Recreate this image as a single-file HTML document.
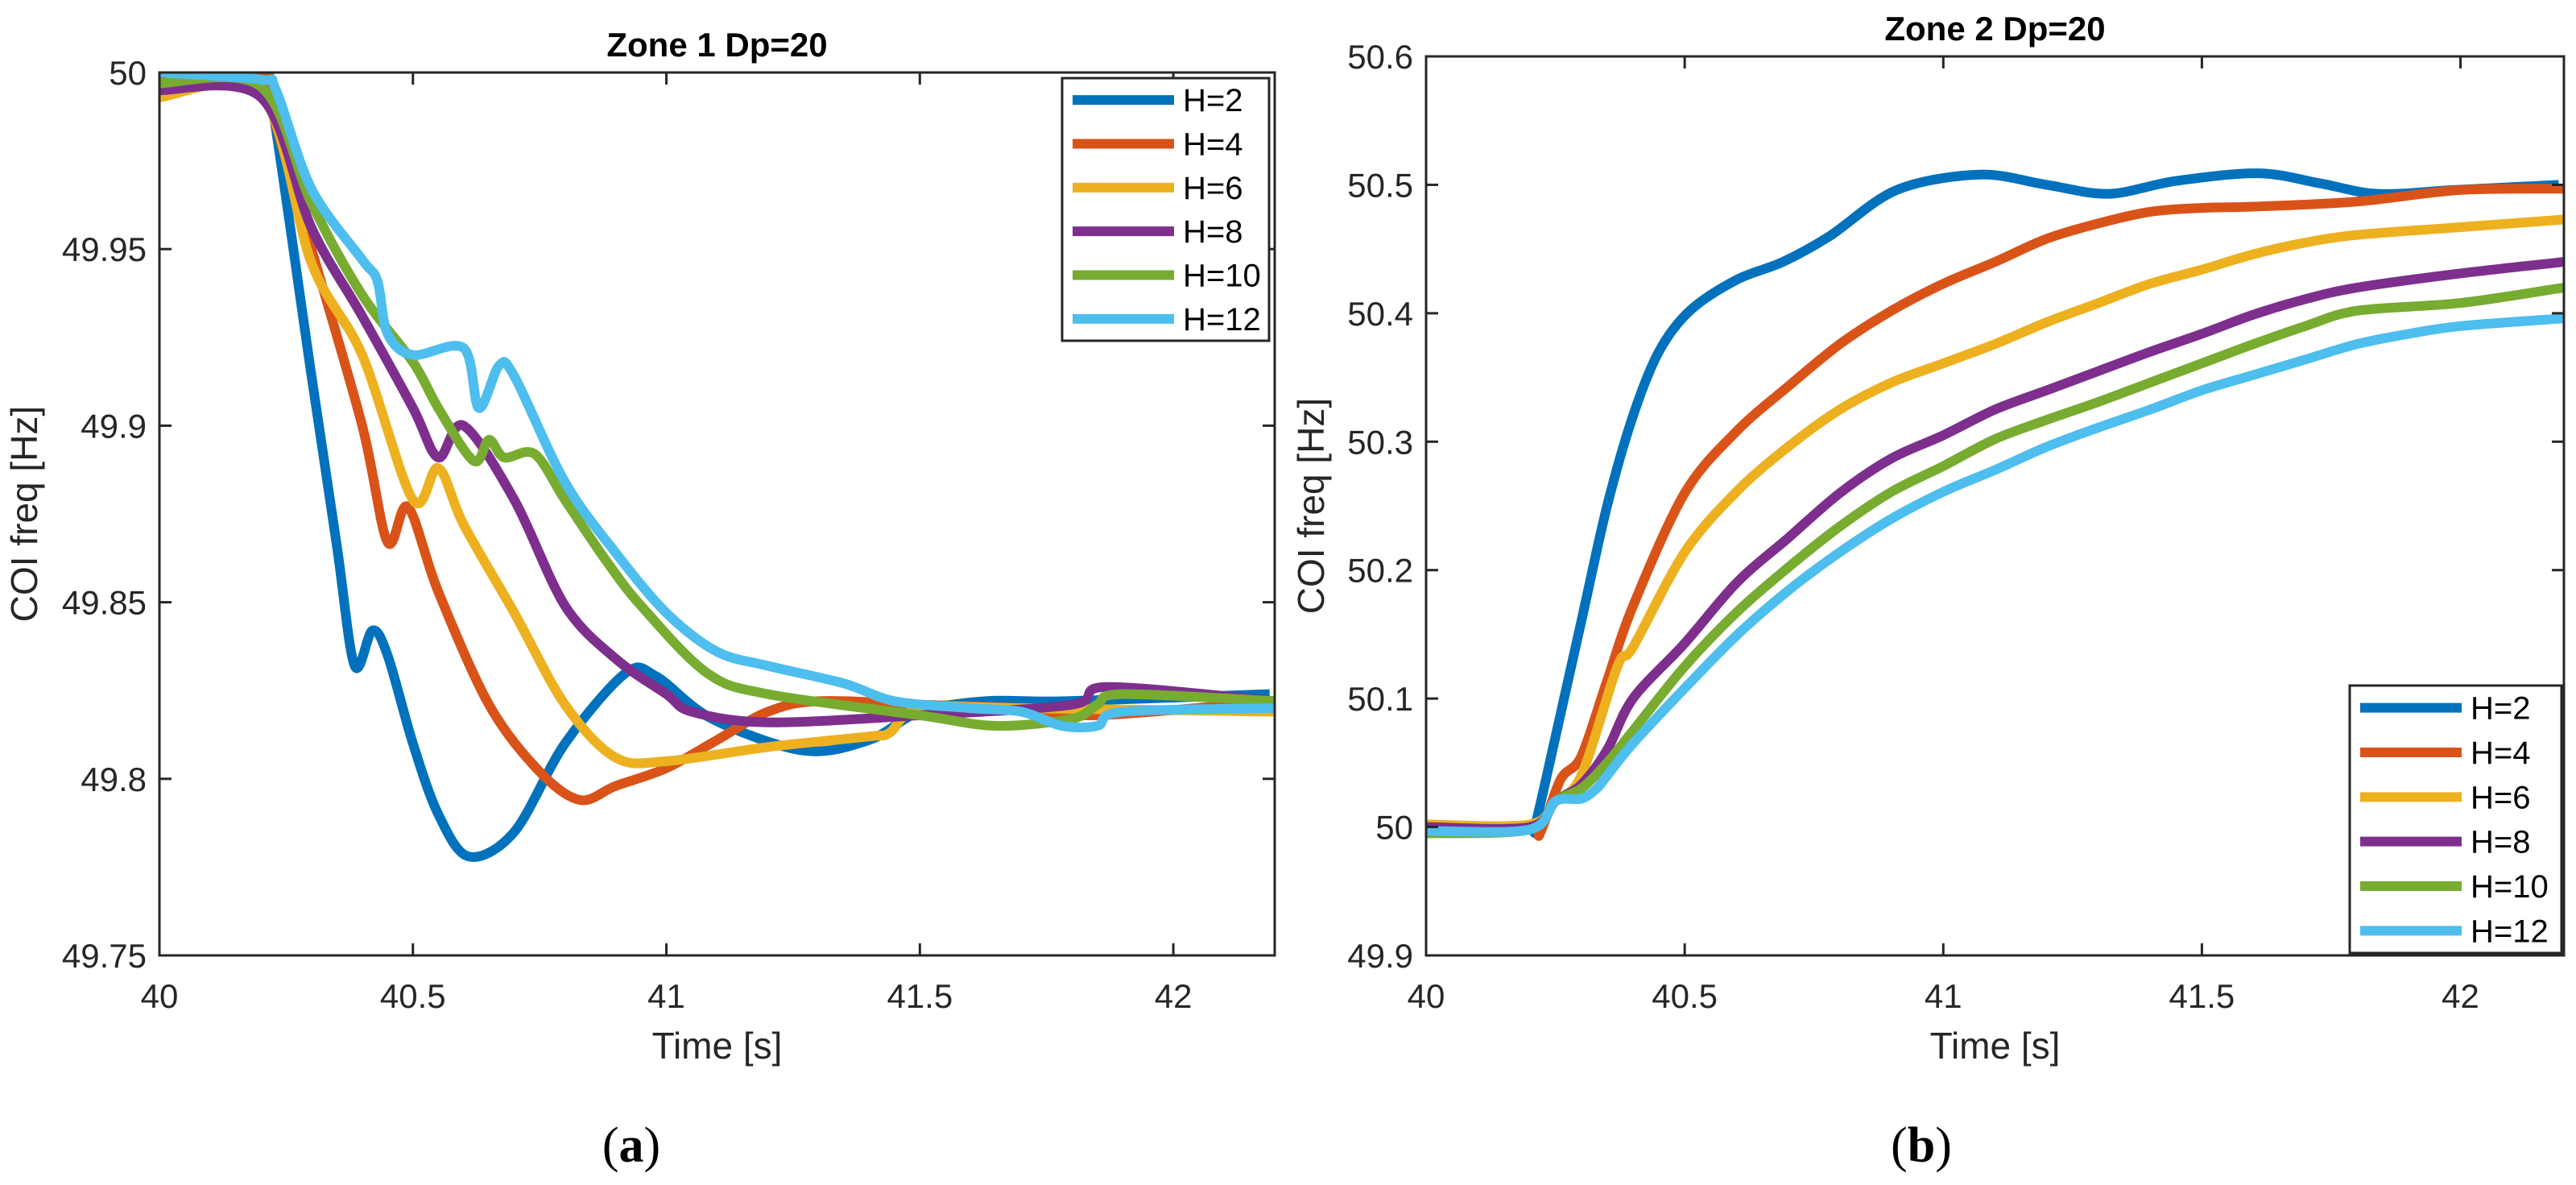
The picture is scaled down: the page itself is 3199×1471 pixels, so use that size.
<!DOCTYPE html>
<html><head><meta charset="utf-8"><style>
body{margin:0;background:#fff}
svg{display:block}
text{font-family:"Liberation Sans",sans-serif;fill:#262626}
</style></head><body>
<svg id="fig" width="3199" height="1471" viewBox="0 0 3199 1471" xmlns="http://www.w3.org/2000/svg"></svg>
<script>
const colors=["#0072BD","#D95319","#EDB120","#7E2F8E","#77AC30","#4DBEEE"];
const seriesNames=["H=2","H=4","H=6","H=8","H=10","H=12"];
// Panel A data
const aX=[[40,40.2,40.22,40.3,40.35,40.385,40.42,40.45,40.5,40.55,40.61,40.7,40.8,40.92,40.98,41.09,41.27,41.4,41.5,41.63,41.79,42.19],
[40,40.2,40.22,40.3,40.4,40.45,40.49,40.55,40.65,40.75,40.83,40.9,41,41.1,41.2,41.3,41.5,41.7,41.85,42.2],
[40,40.2,40.3,40.4,40.5,40.55,40.6,40.7,40.8,40.9,41,41.2,41.4,41.44,41.5,41.7,42.2],
[40,40.2,40.3,40.4,40.5,40.55,40.6,40.7,40.8,40.9,41,41.05,41.2,41.5,41.8,41.87,42.2],
[40,40.2,40.3,40.4,40.5,40.55,40.62,40.65,40.68,40.74,40.8,40.88,40.95,41.08,41.2,41.5,41.65,41.8,41.85,41.9,42.2],
[40,40.2,40.23,40.3,40.4,40.43,40.45,40.5,40.6,40.63,40.67,40.7,40.8,40.9,41,41.1,41.2,41.35,41.45,41.6,41.7,41.78,41.85,41.9,42.2]];
const aY=[[49.999,49.999,49.993,49.914,49.866,49.832,49.842,49.835,49.81,49.79,49.778,49.785,49.81,49.83,49.829,49.817,49.808,49.811,49.819,49.822,49.822,49.824],
[49.999,50.0,49.99,49.95,49.9,49.867,49.877,49.853,49.821,49.802,49.794,49.798,49.803,49.811,49.819,49.822,49.821,49.82,49.818,49.822],
[49.993,49.994,49.946,49.92,49.879,49.888,49.872,49.847,49.821,49.806,49.805,49.809,49.812,49.813,49.82,49.82,49.819],
[49.995,49.993,49.956,49.931,49.905,49.891,49.9,49.879,49.849,49.834,49.824,49.819,49.816,49.818,49.821,49.826,49.822],
[49.997,49.996,49.963,49.937,49.918,49.905,49.89,49.896,49.891,49.892,49.879,49.862,49.849,49.83,49.824,49.818,49.815,49.817,49.821,49.824,49.822],
[50.0,49.998,49.995,49.967,49.947,49.941,49.926,49.92,49.922,49.905,49.917,49.914,49.884,49.864,49.847,49.836,49.832,49.827,49.822,49.82,49.819,49.815,49.815,49.819,49.82]];
// Panel B data
const bX=[[40,40.2,40.21,40.25,40.3,40.35,40.4,40.45,40.51,40.6,40.69,40.78,40.91,41.07,41.2,41.32,41.45,41.61,41.73,41.84,41.99,42.19],
[40,40.2,40.22,40.26,40.3,40.35,40.4,40.5,40.6,40.7,40.8,40.9,41,41.1,41.2,41.3,41.4,41.5,41.6,41.8,42,42.2],
[40,40.2,40.25,40.3,40.37,40.4,40.5,40.6,40.7,40.8,40.9,41,41.1,41.2,41.3,41.4,41.5,41.6,41.7,41.8,42,42.2],
[40,40.2,40.25,40.3,40.35,40.4,40.5,40.6,40.7,40.8,40.9,41,41.1,41.2,41.3,41.4,41.5,41.6,41.7,41.8,42,42.2],
[40,40.2,40.25,40.3,40.35,40.4,40.5,40.6,40.7,40.8,40.9,41,41.1,41.2,41.3,41.4,41.5,41.6,41.7,41.8,42,42.2],
[40,40.2,40.25,40.3,40.33,40.35,40.4,40.5,40.6,40.7,40.8,40.9,41,41.1,41.2,41.3,41.4,41.5,41.6,41.7,41.8,41.9,42,42.2]];
const bY=[[49.999,50.0,50.0,50.07,50.16,50.25,50.32,50.37,50.402,50.426,50.44,50.46,50.496,50.508,50.5,50.493,50.503,50.509,50.501,50.493,50.496,50.5],
[49.999,49.999,49.995,50.037,50.055,50.114,50.172,50.26,50.308,50.343,50.376,50.402,50.423,50.44,50.458,50.47,50.479,50.482,50.483,50.487,50.496,50.497],
[50.002,50.002,50.02,50.04,50.125,50.14,50.214,50.261,50.296,50.325,50.346,50.361,50.376,50.393,50.408,50.423,50.434,50.446,50.455,50.461,50.467,50.473],
[50.0,50.0,50.02,50.033,50.06,50.1,50.143,50.19,50.225,50.26,50.287,50.305,50.325,50.34,50.355,50.37,50.384,50.399,50.411,50.42,50.431,50.44],
[49.995,49.998,50.02,50.03,50.05,50.075,50.125,50.167,50.202,50.234,50.261,50.281,50.302,50.317,50.331,50.346,50.361,50.376,50.39,50.402,50.408,50.42],
[49.997,49.998,50.02,50.022,50.03,50.04,50.065,50.108,50.149,50.184,50.214,50.24,50.261,50.278,50.296,50.311,50.325,50.34,50.352,50.364,50.376,50.384,50.39,50.396]];
const xTicks=[40,40.5,41,41.5,42];
const xTickLabels=["40","40.5","41","41.5","42"];
const aYTicks=[49.75,49.8,49.85,49.9,49.95,50];
const aYTickLabels=["49.75","49.8","49.85","49.9","49.95","50"];
const bYTicks=[49.9,50,50.1,50.2,50.3,50.4,50.5,50.6];
const bYTickLabels=["49.9","50","50.1","50.2","50.3","50.4","50.5","50.6"];

const NS="http://www.w3.org/2000/svg";
const svg=document.getElementById('fig');
function mk(tag,attrs,parent,txt){const e=document.createElementNS(NS,tag);for(const k in attrs)e.setAttribute(k,attrs[k]);if(txt!==undefined)e.textContent=txt;(parent||svg).appendChild(e);return e;}
function smoothPath(P){
  let d='M'+P[0][0].toFixed(1)+','+P[0][1].toFixed(1);
  const t=0.16;
  for(let i=0;i<P.length-1;i++){
    const p0=P[i-1]||P[i],p1=P[i],p2=P[i+1],p3=P[i+2]||P[i+1];
    const c1=[p1[0]+(p2[0]-p0[0])*t,p1[1]+(p2[1]-p0[1])*t];
    const c2=[p2[0]-(p3[0]-p1[0])*t,p2[1]-(p3[1]-p1[1])*t];
    d+=' C'+c1[0].toFixed(1)+','+c1[1].toFixed(1)+' '+c2[0].toFixed(1)+','+c2[1].toFixed(1)+' '+p2[0].toFixed(1)+','+p2[1].toFixed(1);
  }
  return d;
}
function panel(p){
  const g=mk('g',{});
  
  
  const sx=v=>p.x0+(v-p.xmin)/(p.xmax-p.xmin)*(p.x1-p.x0);
  const sy=v=>p.y1-(v-p.ymin)/(p.ymax-p.ymin)*(p.y1-p.y0);
  const cp=mk('clipPath',{id:p.name+'-clip'},g);
  mk('rect',{x:p.x0,y:p.y0,width:p.x1-p.x0,height:p.y1-p.y0},cp);
  for(let s=0;s<p.X.length;s++){
    const P=p.X[s].map((x,i)=>[sx(x),sy(p.Y[s][i])]);
    const pl=mk('path',{d:smoothPath(P),fill:'none',stroke:colors[s],'stroke-width':12,'stroke-linejoin':'round','stroke-linecap':'butt','clip-path':'url(#'+p.name+'-clip)'},g);
    
    
  }
  const box=mk('rect',{x:p.x0,y:p.y0,width:p.x1-p.x0,height:p.y1-p.y0,fill:'none',stroke:'#262626','stroke-width':3},g);
  
  
  xTicks.forEach((t,i)=>{
    const x=sx(t);
    mk('line',{x1:x,y1:p.y1,x2:x,y2:p.y1-15,stroke:'#262626','stroke-width':3},g);
    mk('line',{x1:x,y1:p.y0,x2:x,y2:p.y0+15,stroke:'#262626','stroke-width':3},g);
    const tl=mk('text',{x:x,y:p.y1+65,'font-size':42,'text-anchor':'middle'},g,xTickLabels[i]);
    
    
  });
  p.yt.forEach((t,i)=>{
    const y=sy(t);
    mk('line',{x1:p.x0,y1:y,x2:p.x0+15,y2:y,stroke:'#262626','stroke-width':3},g);
    mk('line',{x1:p.x1,y1:y,x2:p.x1-15,y2:y,stroke:'#262626','stroke-width':3},g);
    const tl=mk('text',{x:p.x0-16,y:y+15,'font-size':42,'text-anchor':'end'},g,p.ytl[i]);
    
    
  });
  const tt=mk('text',{x:(p.x0+p.x1)/2,y:p.y0-20,'font-size':42,'font-weight':'bold','text-anchor':'middle',style:'fill:#000'},g,p.title);
  
  
  const xl=mk('text',{x:(p.x0+p.x1)/2,y:p.y1+128,'font-size':46,'text-anchor':'middle'},g,'Time [s]');
  
  
  const yl=mk('text',{x:0,y:0,'font-size':46,'text-anchor':'middle',transform:'translate('+(p.ylx)+','+((p.y0+p.y1)/2)+') rotate(-90)'},g,'COI freq [Hz]');
  
  
  const lg=mk('g',{},g);
  
  
  mk('rect',{x:p.lx0,y:p.ly0,width:p.lx1-p.lx0,height:p.ly1-p.ly0,fill:'#fff',stroke:'#262626','stroke-width':3},lg);
  const rh=(p.ly1-p.ly0)/6;
  seriesNames.forEach((n,i)=>{
    const cy=p.ly0+rh*(i+0.5);
    const e=mk('g',{},lg);
    
    
    mk('line',{x1:p.lx0+13,y1:cy,x2:p.lx0+139,y2:cy,stroke:colors[i],'stroke-width':12},e);
    mk('text',{x:p.lx0+150,y:cy+14,'font-size':40,style:'fill:#000'},e,n);
  });
  const cap=mk('text',{x:p.capx,y:1442,'text-anchor':'middle',style:'font-family:"Liberation Serif",serif;font-size:62px;fill:#000'},g);
  mk('tspan',{},cap,'(');
  mk('tspan',{'font-weight':'bold'},cap,p.cap);
  mk('tspan',{},cap,')');
  
  
}
panel({name:'zone1-chart',x0:198,x1:1583,y0:90,y1:1186,xmin:40,xmax:42.2,ymin:49.75,ymax:50,X:aX,Y:aY,yt:aYTicks,ytl:aYTickLabels,
  title:'Zone 1  Dp=20',ylx:46,lx0:1319,lx1:1576,ly0:97,ly1:423,capx:784,cap:'a'});
panel({name:'zone2-chart',x0:1771,x1:3184,y0:70,y1:1186,xmin:40,xmax:42.2,ymin:49.9,ymax:50.6,X:bX,Y:bY,yt:bYTicks,ytl:bYTickLabels,
  title:'Zone 2 Dp=20',ylx:1644,lx0:2918,lx1:3181,ly0:851,ly1:1183,capx:2386,cap:'b'});
</script>
</body></html>
